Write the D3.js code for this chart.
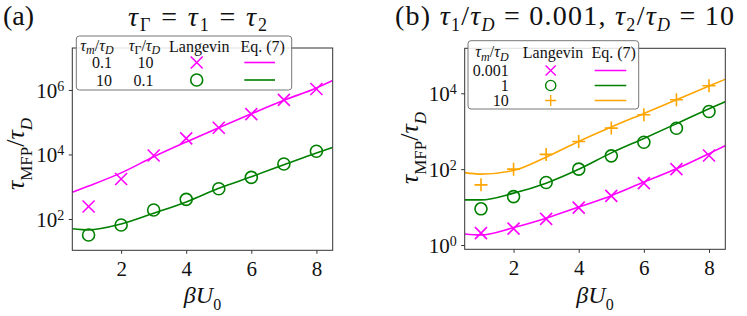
<!DOCTYPE html>
<html>
<head>
<meta charset="utf-8">
<script src="https://cdn.jsdelivr.net/npm/d3@7"></script>
<style>
  body { margin: 0; background: #fff; }
</style>
</head>
<body>
<svg width="747" height="316"></svg>
<script>
// ---- data ----
var uPoints = [1, 2, 3, 4, 5, 6, 7, 8];
var uCurve = [0.5, 1, 2, 3, 4, 5, 6, 7, 8, 8.5];

// panel (a): tau_Gamma = tau_1 = tau_2
var aLangevinMag = [245, 1740, 9300, 31600, 67600, 178000, 490000, 1070000];
var aEqMag = [676, 1050, 2690, 8510, 24500, 67600, 182000, 479000, 1150000, 1950000];
var aLangevinGreen = [32, 65, 190, 407, 867, 1950, 5050, 12600];
var aEqGreen = [50, 46, 70, 151, 339, 891, 2040, 4790, 11200, 16600];

// panel (b): tau_1/tau_D = 0.001, tau_2/tau_D = 10
var bLangevinMag = [2.05, 2.71, 4.9, 9.7, 19.7, 42.7, 100, 229];
var bEqMag = [1.96, 1.85, 2.88, 5.09, 10, 20, 45.7, 102, 257, 417];
var bLangevinGreen = [9.0, 18.9, 44.4, 100, 224, 513, 1200, 3310];
var bEqGreen = [15.5, 15.5, 23.3, 42.7, 98.9, 269, 646, 1580, 3890, 6030];
var bLangevinOrange = [38.5, 100, 245, 535, 1210, 2710, 6760, 15800];
var bEqOrange = [81, 74, 92, 207, 537, 1290, 2950, 6760, 15500, 23400];

var xTicks = [2, 4, 6, 8];
var yTicksA = [1e2, 1e4, 1e6];
var yTicksB = [1, 1e2, 1e4];

var magenta = "#ff00ff", green = "#008000", orange = "#ffa500";
var serif = "Liberation Serif";

var svg = d3.select("svg").attr("font-family", serif);

// text built from pieces: [string, kind]; kind "" normal, "i" italic, "s" sub, "si" italic sub
function rich(t, parts, subSize, subShift) {
  var shift = 0, down = subShift || 0.3;
  parts.forEach(function (p) {
    var kind = p[1] || "";
    var target = kind === "s" || kind === "si" ? down : 0;
    var ts = t.append("tspan").text(p[0]);
    if (target !== shift) {
      ts.attr("dy", ((target - shift) * t.fontSize) + "px");
      shift = target;
    }
    if (kind === "i" || kind === "si") ts.attr("font-style", "italic");
    if (kind === "s" || kind === "si") ts.attr("font-size", subSize);
  });
  return t;
}

function label(parent, x, y, size, anchor) {
  var t = parent.append("text").attr("x", x).attr("y", y)
    .attr("text-anchor", anchor || "start")
    .attr("font-family", serif).attr("font-size", size).attr("fill", "#111");
  t.fontSize = size;
  return t;
}

function drawMarker(sel, type, color) {
  if (type === "x") {
    sel.append("path").attr("d", "M-6,-6L6,6M-6,6L6,-6")
      .attr("stroke", color).attr("stroke-width", 1.6).attr("fill", "none");
  } else if (type === "o") {
    sel.append("circle").attr("r", 6)
      .attr("stroke", color).attr("stroke-width", 1.6).attr("fill", "none");
  } else {
    sel.append("path").attr("d", "M-6.5,0L6.5,0M0,-6.5L0,6.5")
      .attr("stroke", color).attr("stroke-width", 1.6).attr("fill", "none");
  }
}

function panel(opt) {
  var x = d3.scaleLinear().domain([0.5, 8.5]).range([opt.left, opt.right]);
  var y = d3.scaleLog().domain(opt.yDomain).range([opt.bottom, opt.top]);
  var g = svg.append("g");

  var line = d3.line()
    .x(function (d) { return x(d[0]); })
    .y(function (d) { return y(d[1]); })
    .curve(d3.curveMonotoneX);

  var clipId = "clip" + opt.name;
  svg.append("clipPath").attr("id", clipId)
    .append("rect")
    .attr("x", opt.left).attr("y", opt.top)
    .attr("width", opt.right - opt.left).attr("height", opt.bottom - opt.top);

  var plot = g.append("g").attr("clip-path", "url(#" + clipId + ")");

  opt.series.forEach(function (s) {
    plot.append("path")
      .datum(d3.zip(uCurve, s.curve))
      .attr("d", line)
      .attr("fill", "none")
      .attr("stroke", s.color)
      .attr("stroke-width", 1.6);
  });
  opt.series.forEach(function (s) {
    var pts = plot.append("g").selectAll("g")
      .data(d3.zip(uPoints, s.points))
      .enter().append("g")
      .attr("transform", function (d) { return "translate(" + x(d[0]) + "," + y(d[1]) + ")"; });
    drawMarker(pts, s.marker, s.color);
  });

  // axes
  var xAxis = d3.axisBottom(x).tickValues(xTicks).tickSize(3.5).tickPadding(5).tickFormat(d3.format("d"));
  var yAxis = d3.axisLeft(y).tickValues(opt.yTicks).tickSize(3.5).tickPadding(4).tickFormat(function () { return ""; });

  var gx = g.append("g").attr("transform", "translate(0," + opt.bottom + ")").call(xAxis);
  var gy = g.append("g").attr("transform", "translate(" + opt.left + ",0)").call(yAxis);
  [gx, gy].forEach(function (a) {
    a.attr("font-family", serif).attr("font-size", 21);
    a.select(".domain").remove();
    a.selectAll("line").attr("stroke", "#333").attr("stroke-width", 1);
    a.selectAll("text").attr("fill", "#111");
  });
  gx.selectAll("text").attr("dy", "0.8em");

  gy.selectAll(".tick text").each(function (d) {
    var t = d3.select(this).attr("dy", "0.35em").attr("x", -8);
    t.append("tspan").text("10");
    t.append("tspan").attr("dy", "-0.5em").attr("font-size", 14).text(Math.round(Math.log10(d)));
  });

  g.append("rect")
    .attr("x", opt.left).attr("y", opt.top)
    .attr("width", opt.right - opt.left).attr("height", opt.bottom - opt.top)
    .attr("fill", "none").attr("stroke", "#333").attr("stroke-width", 1);

  // axis labels
  rich(label(g, (opt.left + opt.right) / 2, 303, 24, "middle"), [["βU", "i"], ["0", "s"]], 16);

  var yl = label(g, 0, 0, 26, "middle")
    .attr("transform", "translate(" + opt.yLabelX + "," + opt.yLabelY + ") rotate(-90)");
  rich(yl, [["τ", "i"], ["MFP", "s"], ["/", ""], ["τ", "i"], ["D", "si"]], 17);

  return { x: x, y: y, g: g };
}

// ---- panel (a) ----
panel({
  name: "a", left: 72.3, right: 332.7, top: 48, bottom: 250.3,
  yDomain: [Math.pow(10, 1.03), Math.pow(10, 7.30)], yTicks: yTicksA,
  yLabelX: 24, yLabelY: 154,
  series: [
    { points: aLangevinMag, curve: aEqMag, color: magenta, marker: "x" },
    { points: aLangevinGreen, curve: aEqGreen, color: green, marker: "o" }
  ]
});

// ---- panel (b) ----
panel({
  name: "b", left: 464.7, right: 725.3, top: 48.3, bottom: 249.3,
  yDomain: [Math.pow(10, -0.113), Math.pow(10, 5.186)], yTicks: yTicksB,
  yLabelX: 418, yLabelY: 148,
  series: [
    { points: bLangevinMag, curve: bEqMag, color: magenta, marker: "x" },
    { points: bLangevinGreen, curve: bEqGreen, color: green, marker: "o" },
    { points: bLangevinOrange, curve: bEqOrange, color: orange, marker: "+" }
  ]
});

// ---- titles ----
label(svg, 3, 25, 28).text("(a)");
rich(label(svg, 128, 26, 28).attr("textLength", 139).attr("lengthAdjust", "spacing"),
  [["τ", "i"], ["Γ", "s"], [" = ", ""], ["τ", "i"], ["1", "s"], [" = ", ""], ["τ", "i"], ["2", "s"]], 18, 0.18);
rich(label(svg, 395, 25, 28).attr("textLength", 339).attr("lengthAdjust", "spacing"),
  [["(b)  ", ""], ["τ", "i"], ["1", "s"], ["/", ""], ["τ", "i"], ["D", "si"], [" = 0.001, ", ""],
   ["τ", "i"], ["2", "s"], ["/", ""], ["τ", "i"], ["D", "si"], [" = 10", ""]], 18, 0.2);

// ---- legends ----
function legendBox(x0, y0, x1, y1) {
  svg.append("rect").attr("x", x0).attr("y", y0).attr("width", x1 - x0).attr("height", y1 - y0)
    .attr("rx", 3).attr("fill", "#fff").attr("fill-opacity", 0.85)
    .attr("stroke", "#777").attr("stroke-width", 1);
}
function txt(x, y, anchor) {
  return label(svg, x, y, 16, anchor || "middle").attr("dy", "0.35em");
}
function ratio(t, s, italicSub) {
  rich(t, [["τ", "i"], [s, italicSub ? "si" : "s"], ["/", ""], ["τ", "i"], ["D", "si"]], 12, 0.22);
}

// legend (a)
var legA = { tm: ["0.1", "10"], tg: ["10", "0.1"], color: [magenta, green], marker: ["x", "o"] };
legendBox(76.3, 36, 291.7, 90);
ratio(txt(97, 45), "m", true);
ratio(txt(144.5, 45), "Γ", false);
txt(199.3, 46).text("Langevin");
txt(262.7, 46).text("Eq. (7)");
legA.tm.forEach(function (v, i) {
  var yy = 62.5 + i * 17.5;
  txt(112, yy, "end").text(v);
  txt(153.5, yy, "end").text(legA.tg[i]);
  drawMarker(svg.append("g").attr("transform", "translate(196.7," + yy + ")"), legA.marker[i], legA.color[i]);
  svg.append("line").attr("x1", 244.3).attr("x2", 275).attr("y1", yy).attr("y2", yy)
    .attr("stroke", legA.color[i]).attr("stroke-width", 1.6);
});

// legend (b)
var legB = { tm: ["0.001", "1", "10"], color: [magenta, green, orange], marker: ["x", "o", "+"] };
legendBox(468, 40.7, 638.7, 109);
ratio(txt(492, 51.5), "m", true);
txt(553, 52.5).text("Langevin");
txt(613.7, 52.5).text("Eq. (7)");
legB.tm.forEach(function (v, i) {
  var yy = 70.5 + i * 15;
  txt(508.7, yy, "end").text(v);
  drawMarker(svg.append("g").attr("transform", "translate(550.7," + yy + ") scale(0.85)"), legB.marker[i], legB.color[i]);
  svg.append("line").attr("x1", 594.7).attr("x2", 626.3).attr("y1", yy).attr("y2", yy)
    .attr("stroke", legB.color[i]).attr("stroke-width", 1.6);
});
</script>
</body>
</html>
